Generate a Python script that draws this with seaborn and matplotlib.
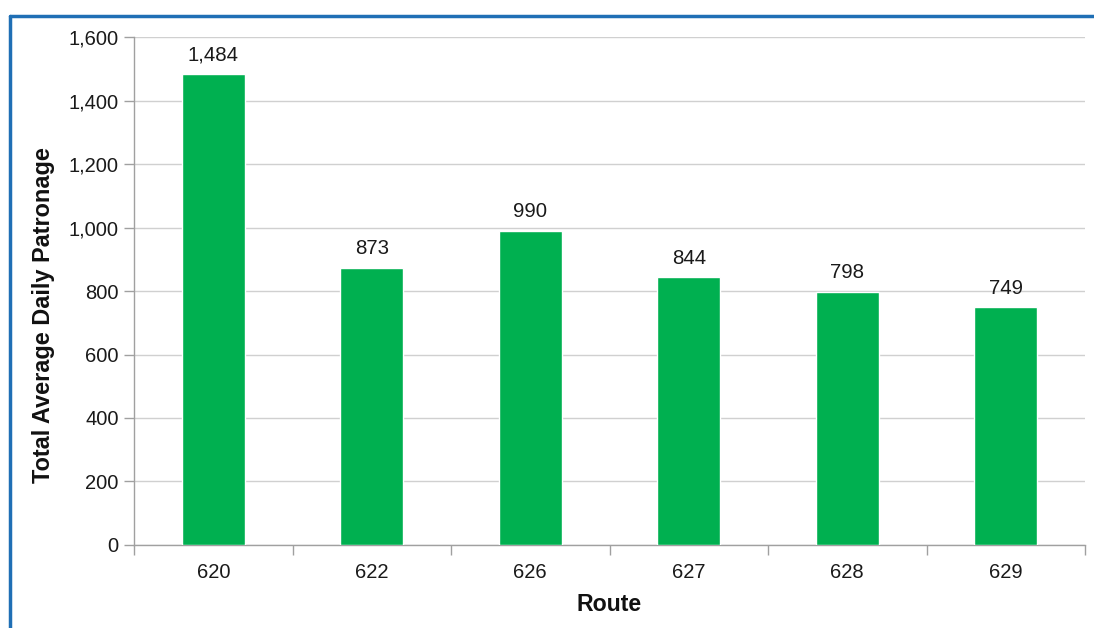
import pandas as pd
import seaborn as sns
import matplotlib.pyplot as plt
from matplotlib.lines import Line2D

routes = ["620", "622", "626", "627", "628", "629"]
patronage = [1484, 873, 990, 844, 798, 749]

df = pd.DataFrame({"route": routes, "patronage": patronage})

sns.set_theme(style="white")
plt.rcParams["font.family"] = ["Liberation Sans", "DejaVu Sans"]

fig = plt.figure(figsize=(10.94, 6.28), dpi=100)
ax = fig.add_axes([0.1225, 0.1322, 0.8693, 0.8088])

sns.barplot(data=df, x="route", y="patronage", color="#00b050", width=0.40,
            saturation=1, ax=ax, zorder=3)

ax.set_ylim(0, 1600)
ax.set_xlim(-0.5, len(routes) - 0.5)
ax.set_yticks(range(0, 1601, 200))
ax.set_yticklabels([f"{v:,}" for v in range(0, 1601, 200)])
ax.yaxis.grid(True, color="#d0d0d0", linewidth=1, zorder=0)

for i, v in enumerate(patronage):
    ax.text(i, v + 30, f"{v:,}", ha="center", va="bottom", fontsize=14.7, color="#1a1a1a")

# category separators on the x axis
ax.set_xticks([i + 0.5 for i in range(-1, len(routes))], minor=True)
ax.tick_params(axis="x", which="minor", length=7, color="#a0a0a0", width=1, direction="out")
ax.tick_params(axis="x", which="major", length=0, labelsize=14.5, pad=13, labelcolor="#1a1a1a")
ax.tick_params(axis="y", length=7, color="#a0a0a0", width=1, direction="out",
               labelsize=14.5, pad=4, labelcolor="#1a1a1a")
ax.yaxis.set_ticks_position("left")
ax.xaxis.set_ticks_position("bottom")

for side in ["top", "right"]:
    ax.spines[side].set_visible(False)
for side in ["left", "bottom"]:
    ax.spines[side].set_color("#a0a0a0")
    ax.spines[side].set_linewidth(1)

ax.set_xlabel("Route", fontsize=16.7, fontweight="bold", labelpad=8, color="#111111")
ax.set_ylabel("Total Average Daily Patronage", fontsize=16.9, fontweight="bold", color="#111111")
ax.yaxis.set_label_coords(-0.083, 0.453)

# blue frame around the chart
fig.add_artist(Line2D([9.5 / 1094, 1.0], [1 - 15.5 / 628] * 2, color="#1f6fb5", linewidth=2.5))
fig.add_artist(Line2D([9.5 / 1094] * 2, [0, 1 - 15.5 / 628], color="#1f6fb5", linewidth=2.5))

fig.savefig("out.png", dpi=100)
